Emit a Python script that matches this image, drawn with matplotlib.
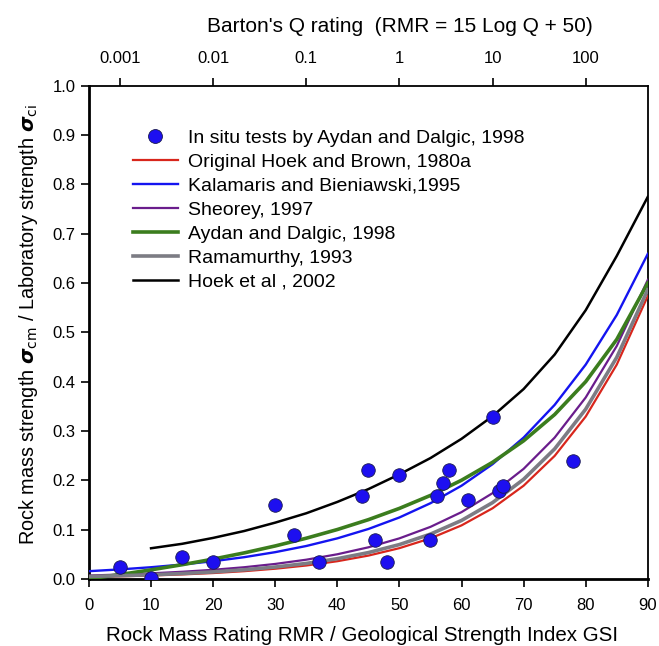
import numpy as np
import matplotlib
matplotlib.use("Agg")
import matplotlib.pyplot as plt

plt.rcParams['font.family'] = ['Liberation Sans', 'DejaVu Sans']
plt.rcParams['mathtext.fontset'] = 'dejavusans'

# RMR / GSI grid the curves were read at
rmr = [0, 5, 10, 15, 20, 25, 30, 35, 40, 45, 50, 55, 60, 65, 70, 75, 80, 85, 90]

hoek_brown_1980 = [0.0039, 0.0051, 0.0067, 0.0089, 0.0117, 0.0155, 0.0205, 0.0270, 0.0357,
                   0.0471, 0.0622, 0.0821, 0.1084, 0.1431, 0.1889, 0.2494, 0.3292, 0.4346, 0.5738]
kalamaris_1995 = [0.0155, 0.0191, 0.0235, 0.0290, 0.0357, 0.0439, 0.0541, 0.0666, 0.0821,
                  0.1011, 0.1245, 0.1534, 0.1889, 0.2326, 0.2865, 0.3529, 0.4346, 0.5353, 0.6592]
sheorey_1997 = [0.0067, 0.0087, 0.0111, 0.0143, 0.0183, 0.0235, 0.0302, 0.0388, 0.0498,
                0.0639, 0.0821, 0.1054, 0.1353, 0.1738, 0.2231, 0.2865, 0.3679, 0.4724, 0.6065]
aydan_1998 = [0.0, 0.0087, 0.0182, 0.0286, 0.0400, 0.0526, 0.0667, 0.0824, 0.1000,
              0.1200, 0.1429, 0.1692, 0.2000, 0.2364, 0.2800, 0.3333, 0.4000, 0.4857, 0.6000]
ramamurthy_1993 = [0.0048, 0.0063, 0.0082, 0.0107, 0.0140, 0.0183, 0.0239, 0.0312, 0.0408,
                   0.0532, 0.0695, 0.0907, 0.1184, 0.1546, 0.2019, 0.2636, 0.3442, 0.4493, 0.5866]

# Hoek et al 2002 only drawn from GSI 10 upwards
gsi_2002 = [10, 15, 20, 25, 30, 35, 40, 45, 50, 55, 60, 65, 70, 75, 80, 85, 90]
hoek_2002 = [0.062, 0.071, 0.083, 0.097, 0.114, 0.133, 0.156, 0.182, 0.212, 0.245,
             0.284, 0.330, 0.385, 0.455, 0.545, 0.655, 0.775]

# in situ tests (Aydan and Dalgic, 1998)
test_rmr = [5, 10, 15, 20, 30, 33, 37, 44, 45, 46, 48, 50, 55, 56, 57, 58, 61, 65, 66, 66.6, 78]
test_ratio = [0.024, 0.002, 0.044, 0.034, 0.149, 0.089, 0.034, 0.169, 0.220, 0.079, 0.034,
              0.210, 0.079, 0.169, 0.194, 0.220, 0.159, 0.329, 0.179, 0.189, 0.240]

q_values = [0.001, 0.01, 0.1, 1, 10, 100]
q_labels = ['0.001', '0.01', '0.1', '1', '10', '100']

fig = plt.figure(figsize=(6.59, 6.46), dpi=100)
ax = fig.add_axes([0.135, 0.104, 0.848, 0.763])

ax.plot(rmr, hoek_brown_1980, color='#d8261c', lw=1.6, zorder=3)
ax.plot(rmr, kalamaris_1995, color='#1414f0', lw=1.7, zorder=3)
ax.plot(rmr, sheorey_1997, color='#6a1d8c', lw=1.6, zorder=3)
ax.plot(rmr, aydan_1998, color='#3b7d1e', lw=2.6, zorder=3)
ax.plot(rmr, ramamurthy_1993, color='#7c7c84', lw=2.6, zorder=3)
ax.plot(gsi_2002, hoek_2002, color='black', lw=1.8, zorder=3)
ax.scatter(test_rmr, test_ratio, s=95, color='#1d0ff0', edgecolor='#1a1a50',
           linewidth=0.6, zorder=4)

ax.set_xlim(0, 90)
ax.set_ylim(0, 1.0)
ax.set_xticks(np.arange(0, 91, 10))
ax.set_yticks(np.arange(0, 1.01, 0.1))
ax.set_yticklabels([f'{v:.1f}' for v in np.arange(0, 1.01, 0.1)])
ax.tick_params(axis='both', labelsize=12, length=6, width=1.2, direction='out')
ax.tick_params(axis='x', pad=8)

for side in ['left', 'bottom']:
    ax.spines[side].set_linewidth(2.0)
for side in ['top', 'right']:
    ax.spines[side].set_linewidth(1.3)

ax.set_xlabel('Rock Mass Rating RMR / Geological Strength Index GSI', fontsize=14.8, labelpad=9)
ax.xaxis.label.set_x(0.488)
ax.set_ylabel(r'Rock mass strength $\boldsymbol{\sigma}_{\rm cm}$ / Laboratory strength $\boldsymbol{\sigma}_{\rm ci}$',
              fontsize=14.3, labelpad=9)
ax.yaxis.label.set_y(0.515)

# top axis: Barton's Q, RMR = 15 log Q + 50
top = ax.twiny()
top.set_xlim(0, 90)
top.set_xticks([15 * np.log10(q) + 50 for q in q_values])
top.set_xticklabels(q_labels)
top.tick_params(axis='x', labelsize=12, length=6, width=1.2, pad=8)
top.set_xlabel("Barton's Q rating  (RMR = 15 Log Q + 50)", fontsize=15, labelpad=14)
top.xaxis.label.set_x(0.556)
for side in top.spines:
    top.spines[side].set_visible(False)

handles = [
    plt.Line2D([], [], ls='none', marker='o', ms=10, color='#1d0ff0', mec='#1a1a50', mew=0.6),
    plt.Line2D([], [], color='#d8261c', lw=1.6),
    plt.Line2D([], [], color='#1414f0', lw=1.7),
    plt.Line2D([], [], color='#6a1d8c', lw=1.6),
    plt.Line2D([], [], color='#3b7d1e', lw=2.6),
    plt.Line2D([], [], color='#7c7c84', lw=2.6),
    plt.Line2D([], [], color='black', lw=1.8),
]
labels = [
    'In situ tests by Aydan and Dalgic, 1998',
    'Original Hoek and Brown, 1980a',
    'Kalamaris and Bieniawski,1995',
    'Sheorey, 1997',
    'Aydan and Dalgic, 1998',
    'Ramamurthy, 1993',
    'Hoek et al , 2002',
]
ax.legend(handles, labels, loc='upper left', bbox_to_anchor=(0.065, 0.928), frameon=False,
          fontsize=14, handlelength=2.3, handletextpad=0.5, labelspacing=0.33,
          borderaxespad=0)

fig.savefig('out.png', dpi=100)
